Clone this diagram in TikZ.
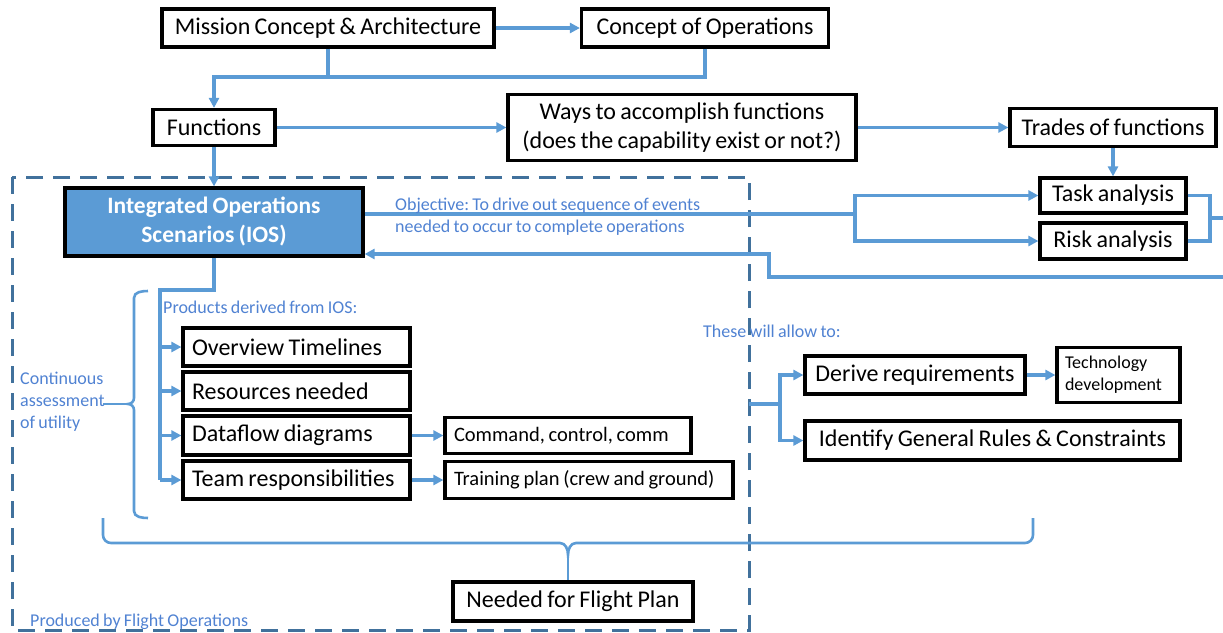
\documentclass[tikz,border=0pt]{standalone}
\usepackage{fontspec}
\setmainfont{Carlito}[WordSpace=0.8]
\usetikzlibrary{arrows.meta}
\definecolor{conn}{RGB}{91,155,213}
\definecolor{lbl}{RGB}{80,130,210}
\definecolor{dashc}{RGB}{65,113,156}
\definecolor{iosfill}{RGB}{91,155,213}
\frenchspacing
\begin{document}
\begin{tikzpicture}[x=1pt,y=-1pt,
  box/.style={draw=black, line width=3.2pt, fill=white, inner xsep=0pt, inner ysep=0pt, align=center, font=\fontsize{24}{29}\selectfont},
  lbox/.style={box, inner xsep=9pt},
  sbox/.style={box, inner xsep=9pt, font=\fontsize{20.5}{24}\selectfont},
  conn/.style={draw=conn, line width=3.1pt},
  arr/.style={conn, -{Triangle[length=10pt,width=10pt]}},
  lab/.style={text=lbl, font=\fontsize{18}{22}\selectfont, inner sep=0pt, anchor=west, align=left},
  dashbox/.style={draw=dashc, line width=3pt, dash pattern=on 17pt off 10pt},
  brace/.style={draw=conn, line width=2.6pt}]
\useasboundingbox (0,0) rectangle (1223,632);

% dashed frame
\draw[dashbox] (12,177) rectangle (749,630);

% top nodes
\node[box, minimum width=332pt, minimum height=38pt] (mca) at (328,28) {Mission Concept \& Architecture};
\node[box, minimum width=247pt, minimum height=38pt] (coo) at (705,28) {Concept of Operations};
\node[box, minimum width=122pt, minimum height=36pt] (fun) at (214,127.5) {Functions};
\node[box, minimum width=348pt, minimum height=66pt] (way) at (682,127.5) {Ways to accomplish functions\\(does the capability exist or not?)};
\node[box, minimum width=206pt, minimum height=38pt] (trd) at (1113,127.5) {Trades of functions};
\node[box, minimum width=146pt, minimum height=35pt] (task) at (1113,195.5) {Task analysis};
\node[box, minimum width=146pt, minimum height=36pt] (risk) at (1113,241) {Risk analysis};
\node[box, fill=iosfill, text=white, font=\fontsize{23.5}{29}\selectfont\bfseries, minimum width=298pt, minimum height=68pt] (ios) at (214,222) {Integrated Operations\\Scenarios (IOS)};

% products
\node[lbox, minimum height=38pt] (ov) at (296.5,347) {\makebox[209pt][l]{Overview Timelines}};
\node[lbox, minimum height=38pt] (res) at (296.5,391) {\makebox[209pt][l]{Resources needed}};
\node[lbox, minimum height=39pt] (dfd) at (296.5,435.5) {\makebox[209pt][l]{Dataflow diagrams}};
\node[lbox, minimum height=38pt] (team) at (296.5,480) {\makebox[209pt][l]{Team responsibilities}};
\node[sbox, minimum height=36pt] (cmd) at (568,435.5) {\makebox[228pt][l]{Command, control, comm}};
\node[sbox, minimum height=37pt] (trn) at (589,480) {\makebox[270pt][l]{Training plan (crew and ground)}};

% right side
\node[box, minimum width=220pt, minimum height=38pt] (der) at (915,375) {Derive requirements};
\node[box, align=left, inner xsep=8pt, minimum height=55pt, font=\fontsize{18}{22}\selectfont] (tech) at (1118.5,375) {\makebox[107pt][l]{Technology}\\\makebox[107pt][l]{development}};
\node[box, minimum width=375pt, minimum height=39pt] (idr) at (992.5,440.5) {Identify General Rules \& Constraints};

\node[box, minimum width=240pt, minimum height=39pt] (need) at (573,601.5) {Needed for Flight Plan};

% connectors top
\draw[arr] (mca) -- (coo);
\coordinate (j1) at (214,77);
\draw[conn] (mca.south) -- (mca.south |- j1);
\draw[arr] (coo.south) |- (j1) -- (fun.north);
\draw[arr] (fun) -- (way);
\draw[arr] (way) -- (trd);
\draw[arr] (trd) -- (task);
\draw[arr] (fun) -- (ios);

% objective branch
\coordinate (b1) at (855,214);
\draw[conn] (ios.east |- b1) -- (b1);
\draw[arr] (b1) |- (task.west);
\draw[arr] (b1) |- (risk.west);
\coordinate (r1) at (1210,218);
\coordinate (r2) at (1223,218);
\draw[conn] (task.east) -| (r1);
\draw[conn] (risk.east) -| (r1);
\draw[conn] (r1) -- (r2);
\coordinate (e1) at (1223,277);
\coordinate (e2) at (769,277);
\coordinate (e3) at (769,254);
\draw[arr] (e1) -- (e2) -- (e3) -- (ios.east |- e3);

% products tree
\coordinate (p0) at (160,290);
\coordinate (p1) at (160,480);
\draw[conn] (ios.south) |- (p0) -- (p1);
\draw[arr] (ov.west -| p0) -- (ov.west);
\draw[arr] (res.west -| p0) -- (res.west);
\draw[arr] (dfd.west -| p0) -- (dfd.west);
\draw[arr] (team.west -| p0) -- (team.west);
\draw[arr] (dfd) -- (cmd);
\draw[arr] (team) -- (trn);

% derive branch
\coordinate (d0) at (749,404);
\coordinate (d1) at (780,404);
\draw[conn] (d0) -- (d1);
\draw[arr] (d1) |- (der.west);
\draw[arr] (d1) |- (idr.west);
\draw[arr] (der) -- (tech);

% left brace
\coordinate (lt) at (128,404);
\coordinate (lc) at (103,404);
\draw[brace] (148,291) to[out=180,in=90] (134,298) -- (134,398) to[out=-90,in=0] (lt) to[out=0,in=90] (134,410) -- (134,511) to[out=-90,in=180] (148,518);
\draw[brace] (lc) -- (lt);

% bottom brace
\coordinate (bt) at (568,555);
\draw[brace] (103,518) -- (103,535) to[out=-90,in=180] (111,543) -- (560,543) to[out=0,in=90] (bt) to[out=90,in=180] (576,543) -- (1025,543) to[out=0,in=-90] (1033,535) -- (1033,518);
\draw[brace] (bt) -- (bt |- need.north);

% labels
\node[lab] (obj) at (395,217) {Objective: To drive out sequence of events\\needed to occur to complete operations};
\node[lab] (prod) at (163,307) {Products derived from IOS:};
\node[lab] (cont) at (20,402) {Continuous\\assessment\\of utility};
\node[lab] (these) at (703,331) {These will allow to:};
\node[lab] (pfo) at (30,622) {Produced by Flight Operations};
\end{tikzpicture}
\end{document}
